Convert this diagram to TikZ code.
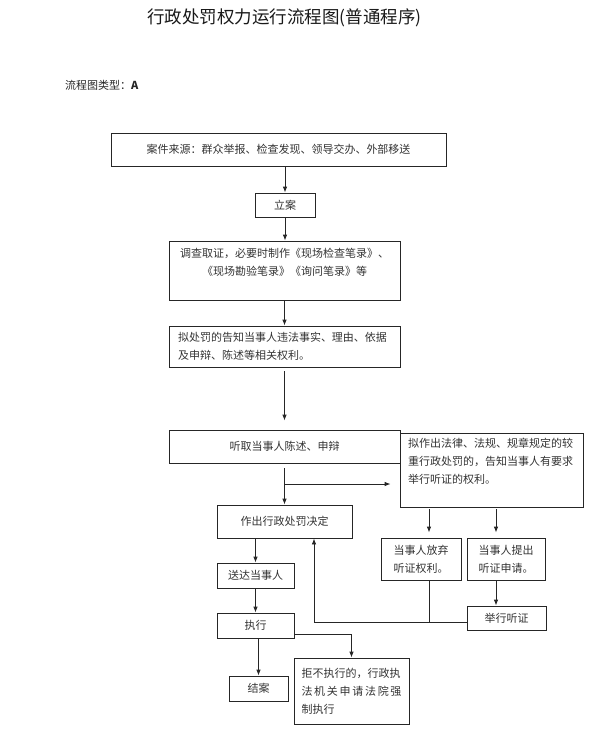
\documentclass[tikz,border=0pt]{standalone}
\usepackage{fontspec}
\setmainfont{Noto Sans CJK SC}
\usetikzlibrary{arrows.meta}

\tikzset{
  box/.style={draw=black!85, line width=0.8pt, inner sep=0pt, text=black!80,
    font=\fontsize{11}{18}\selectfont},
  para/.style={box, inner xsep=8pt, align=left},
  flow/.style={draw=black!85, line width=0.8pt, -{Latex[length=6pt,width=4.5pt]}},
  link/.style={draw=black!85, line width=0.8pt}
}

\begin{document}
\begin{tikzpicture}[x=1pt,y=-1pt]
 \useasboundingbox (0,0) rectangle (593,748);

 \node[font=\fontsize{17.5}{20}\selectfont, text=black!90] (title) at (284.5,18) {行政处罚权力运行流程图(普通程序)};
 \node[anchor=west, inner sep=0pt, font=\fontsize{11}{13}\selectfont, text=black!85] (kind) at (65,85) {流程图类型：\textbf{A}};

 \node[box, minimum width=335pt, minimum height=33pt] (source) at (278.5,149.5) {案件来源：群众举报、检查发现、领导交办、外部移送};
 \node[box, minimum width=60pt, minimum height=24pt] (filing) at (285,205) {立案};
 \node[box, text width=215pt, inner xsep=8pt, align=center, minimum height=59pt] (investigate) at (284.5,270.5)
   {调查取证，必要时制作《现场检查笔录》、\\《现场勘验笔录》《询问笔录》等\\\mbox{}};
 \node[para, text width=213pt, inner xsep=9pt, minimum height=41pt] (notify) at (284.5,346.5)
   {拟处罚的告知当事人违法事实、理由、依据\\及申辩、陈述等相关权利。};
 \node[box, minimum width=231pt, minimum height=33pt] (hear) at (284.5,446.5) {听取当事人陈述、申辩};
 \node[para, text width=167pt, minimum height=74pt] (heavy) at (491.5,470)
   {拟作出法律、法规、规章规定的较\\重行政处罚的，告知当事人有要求\\举行听证的权利。\\\mbox{}};
 \node[box, minimum width=135pt, minimum height=33pt] (decide) at (284.5,521.5) {作出行政处罚决定};
 \node[box, text width=80pt, align=center, minimum height=42pt] (waive) at (421,559) {当事人放弃\\听证权利。};
 \node[box, text width=78pt, align=center, minimum height=42pt] (apply) at (506,559) {当事人提出\\听证申请。};
 \node[box, minimum width=79pt, minimum height=24pt] (hold) at (506.5,618) {举行听证};
 \node[box, minimum width=77pt, minimum height=25pt] (serve) at (255.5,575.5) {送达当事人};
 \node[box, minimum width=77pt, minimum height=25pt] (exec) at (255.5,625.5) {执行};
 \node[box, minimum width=59pt, minimum height=25pt] (close) at (258.5,688.5) {结案};
 \node[para, text width=100pt, inner xsep=7.5pt, minimum height=66pt] (enforce) at (351.5,691)
   {拒不执行的，行政执\\法\hfill 机\hfill 关\hfill 申\hfill 请\hfill 法\hfill 院\hfill 强\\制执行};

 \coordinate (fork) at (285,484);
 \coordinate (waivetop) at ([xshift=8pt]waive.north);
 \coordinate (applytop) at ([xshift=-10pt]apply.north);
 \coordinate (join) at ([yshift=-4pt]hold.west);
 \coordinate (back) at ([xshift=29.5pt]decide.south);
 \coordinate (execout) at ([yshift=-8.5pt]exec.east);

 \draw[flow] (source.south -| filing) -- (filing.north);
 \draw[flow] (filing.south) -- (filing.south |- investigate.north);
 \draw[flow] (investigate.south) -- (notify.north);
 \draw[flow, shorten <=4pt, shorten >=9pt] (notify.south) -- (hear.north);
 \draw[flow, shorten <=5pt] (hear.south) -- (decide.north);
 \draw[flow, shorten >=9pt] (fork) -- (fork -| heavy.west);

 \draw[flow, shorten <=2pt, shorten >=5pt] (waivetop |- heavy.south) -- (waivetop);
 \draw[flow, shorten <=2pt, shorten >=5pt] (applytop |- heavy.south) -- (applytop);
 \draw[flow] (applytop |- apply.south) -- (applytop |- hold.north);
 \draw[link] (waivetop |- waive.south) -- (waivetop |- join);
 \draw[flow] (join) -- (join -| back) -- (back);

 \draw[flow] (serve.north |- decide.south) -- (serve.north);
 \draw[flow] (serve.south) -- (exec.north);
 \draw[flow] (close.north |- exec.south) -- (close.north);
 \draw[flow] (execout) -- (execout -| enforce.north) -- (enforce.north);
\end{tikzpicture}
\end{document}
